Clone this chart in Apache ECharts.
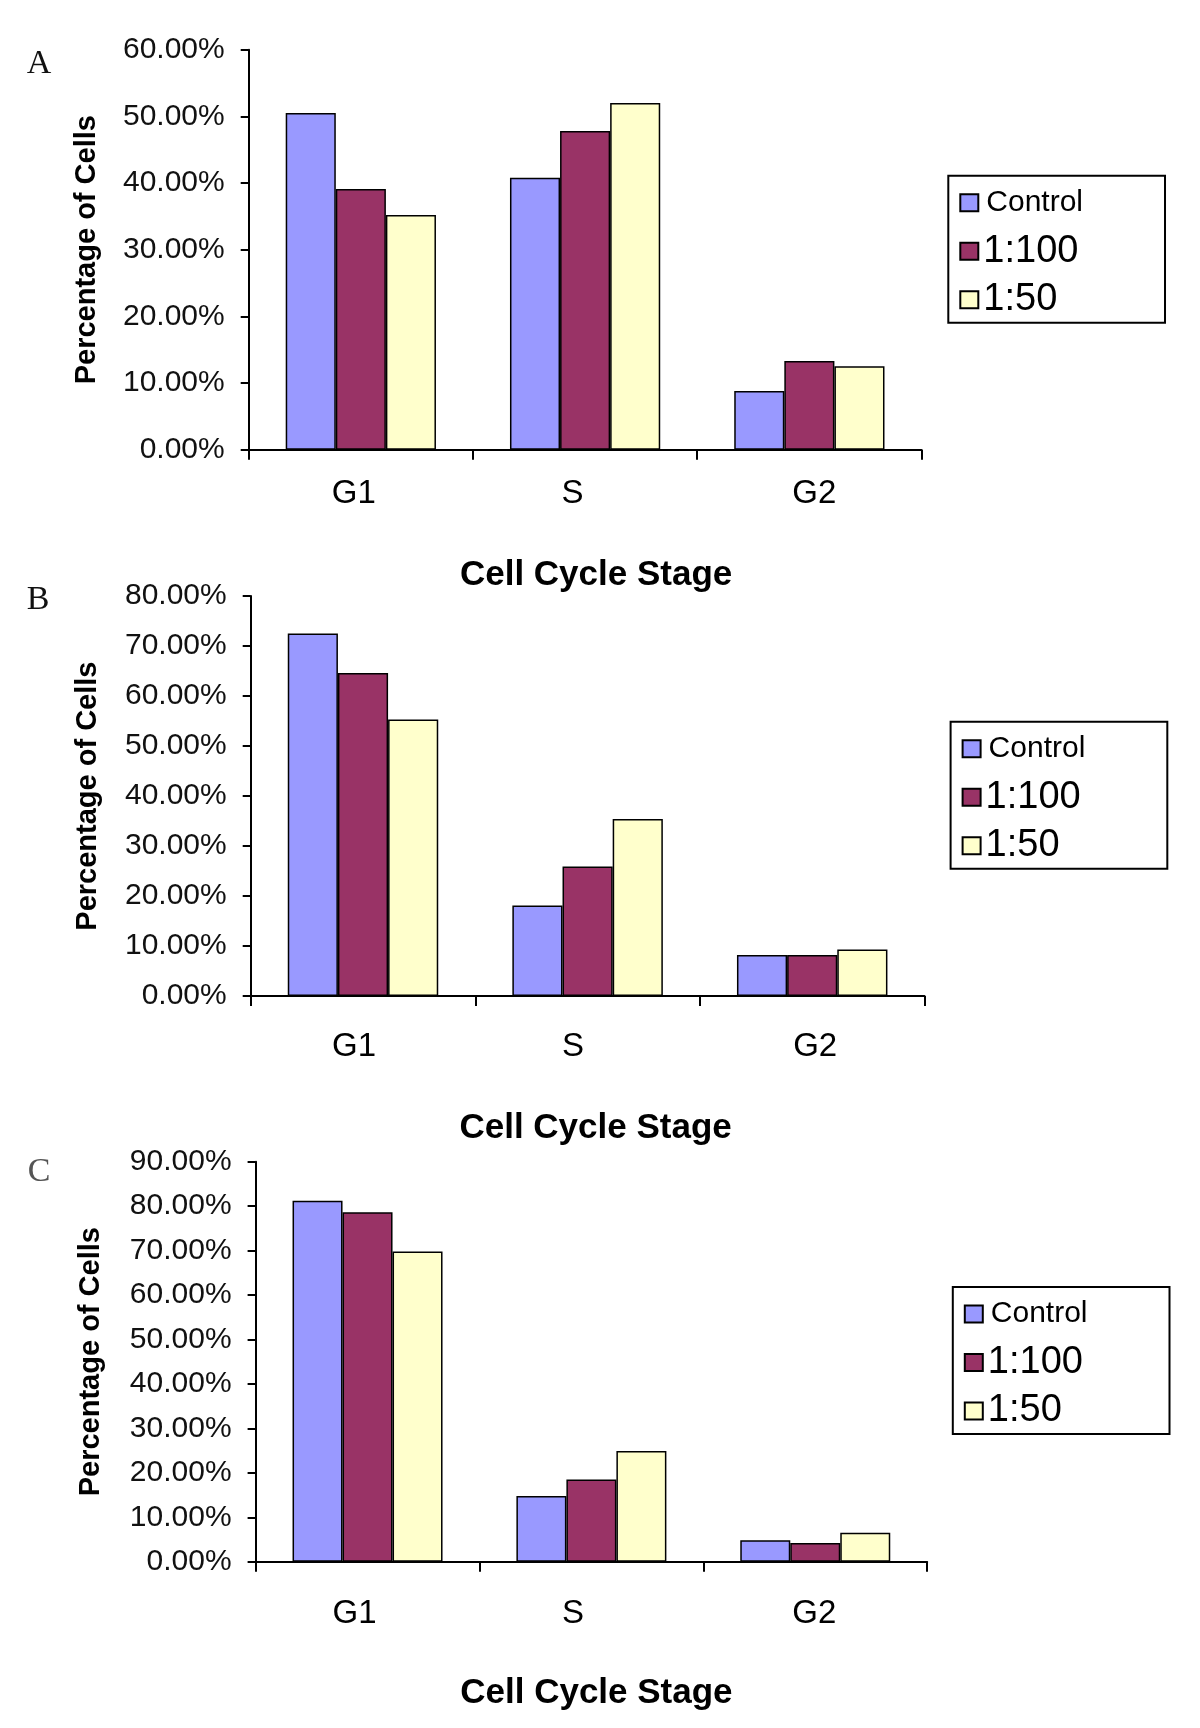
<!DOCTYPE html>
<html>
<head>
<meta charset="utf-8">
<script src="https://cdn.jsdelivr.net/npm/echarts@6/dist/echarts.min.js"></script>
<style>
html,body{margin:0;padding:0;background:#fff;}
#chart{width:1200px;height:1728px;}
</style>
</head>
<body>
<div id="chart"></div>
<script>
// ---- data ----
const categories = ['G1', 'S', 'G2'];
const seriesNames = ['Control', '1:100', '1:50'];
const panelLetters = ['A', 'B', 'C'];
const yMaxes = [60, 80, 90];          // percent
const yInterval = 10;

const A_control = [50.5, 40.8, 8.8];
const A_1to100  = [39.1, 47.8, 13.3];
const A_1to50   = [35.2, 52.0, 12.5];

const B_control = [72.5, 18.1, 8.2];
const B_1to100  = [64.6, 25.9, 8.2];
const B_1to50   = [55.3, 35.4, 9.3];

const C_control = [81.2, 14.8, 4.8];
const C_1to100  = [78.6, 18.5, 4.2];
const C_1to50   = [69.8, 24.9, 6.5];

const panelData = [
  [A_control, A_1to100, A_1to50],
  [B_control, B_1to100, B_1to50],
  [C_control, C_1to100, C_1to50]
];

const xTitle = 'Cell Cycle Stage';
const yTitle = 'Percentage of Cells';

// ---- styling / layout ----
const colors = ['#9999FF', '#993366', '#FFFFCC'];
const FONT = "'Liberation Sans', Arial, sans-serif";
const grids = [
  {left: 248.7, top: 49.7,   width: 672.8, height: 400},
  {left: 250.7, top: 596.1,  width: 673.8, height: 400},
  {left: 255.6, top: 1161.7, width: 671.6, height: 400}
];
const labelMargins = [28, 34, 36];
const xNameGaps = [108, 115, 114];
const xNameShift = [22, 16, 10];
const yNameGaps = [147, 148, 150];
const legendPos = [
  {left: 948.3, top: 175.7},
  {left: 950.6, top: 721.8},
  {left: 952.8, top: 1287}
];
const letterPos = [[39, 64], [38, 600], [39, 1172]];
const letterColors = ['#111', '#111', '#555'];
// per-panel, per-category label nudges in px (negative = left) to mimic original placement
const catNudge = [
  [-7, -12.5, 5],
  [-9, -14.5, 3],
  [-13, -18.5, -1]
];
function nudgePad(d) { return d < 0 ? [0, -2 * d, 0, 0] : [0, 0, 0, 2 * d]; }

const chart = echarts.init(document.getElementById('chart'), null, {renderer: 'canvas'});

const option = {
  backgroundColor: '#ffffff',
  animation: false,
  grid: grids.map(g => Object.assign({containLabel: false}, g)),
  xAxis: grids.map((g, i) => ({
    type: 'category',
    gridIndex: i,
    data: categories,
    boundaryGap: true,
    axisLine: {show: true, lineStyle: {color: '#000', width: 2}},
    axisTick: {show: true, length: 10, inside: false, lineStyle: {color: '#000', width: 2}},
    axisLabel: {
      show: true, margin: labelMargins[i], fontFamily: FONT, fontSize: 33, color: '#000',
      formatter: (v, idx) => '{c' + idx + '|' + v + '}',
      rich: {
        c0: {fontFamily: FONT, fontSize: 33, color: '#000', padding: nudgePad(catNudge[i][0])},
        c1: {fontFamily: FONT, fontSize: 33, color: '#000', padding: nudgePad(catNudge[i][1])},
        c2: {fontFamily: FONT, fontSize: 33, color: '#000', padding: nudgePad(catNudge[i][2])}
      }
    },
    splitLine: {show: false},
    name: xTitle,
    nameLocation: 'middle',
    nameGap: xNameGaps[i],
    nameTextStyle: {fontFamily: FONT, fontSize: 35, fontWeight: 'bold', color: '#000', padding: [0, 0, 0, xNameShift[i]]}
  })),
  yAxis: grids.map((g, i) => ({
    type: 'value',
    gridIndex: i,
    min: 0,
    max: yMaxes[i],
    interval: yInterval,
    axisLine: {show: true, lineStyle: {color: '#000', width: 2}},
    axisTick: {show: true, length: 8, inside: false, lineStyle: {color: '#000', width: 2}},
    axisLabel: {
      show: true, margin: 24, fontFamily: FONT, fontSize: 30, color: '#111',
      formatter: v => v.toFixed(2) + '%'
    },
    splitLine: {show: false},
    name: yTitle,
    nameLocation: 'middle',
    nameGap: yNameGaps[i],
    nameRotate: 90,
    nameTextStyle: {fontFamily: FONT, fontSize: 29, fontWeight: 'bold', color: '#000', padding: [10, 0, 0, 0]}
  })),
  legend: legendPos.map(p => ({
    orient: 'vertical',
    left: p.left,
    top: p.top,
    data: seriesNames,
    selectedMode: false,
    icon: 'rect',
    itemWidth: 18,
    itemHeight: 17,
    itemGap: 8.5,
    padding: [7, 82, 3, 11],
    borderColor: '#000',
    borderWidth: 2,
    backgroundColor: '#fff',
    formatter: name => (name === 'Control' ? '{s|' + name + '}' : '{l|' + name + '}'),
    textStyle: {
      fontFamily: FONT, color: '#000', fontSize: 36, lineHeight: 40,
      rich: {
        s: {fontFamily: FONT, fontSize: 30, lineHeight: 40, height: 40, color: '#000', padding: [0, 0, 0, 3]},
        l: {fontFamily: FONT, fontSize: 38, lineHeight: 40, height: 40, color: '#000'}
      }
    }
  })),
  graphic: panelLetters.map((t, i) => ({
    type: 'text',
    x: letterPos[i][0],
    y: letterPos[i][1],
    style: {
      text: t,
      font: "34px 'Liberation Serif', 'Times New Roman', serif",
      fill: letterColors[i],
      align: 'center',
      verticalAlign: 'middle'
    }
  })),
  series: []
};

panelData.forEach((panel, pi) => {
  panel.forEach((vals, si) => {
    option.series.push({
      type: 'bar',
      name: seriesNames[si],
      xAxisIndex: pi,
      yAxisIndex: pi,
      data: vals,
      barGap: '0%',
      barCategoryGap: '33%',
      itemStyle: {color: colors[si], borderColor: '#000', borderWidth: 1.5},
      emphasis: {disabled: true}
    });
  });
});

chart.setOption(option);
</script>
</body>
</html>
